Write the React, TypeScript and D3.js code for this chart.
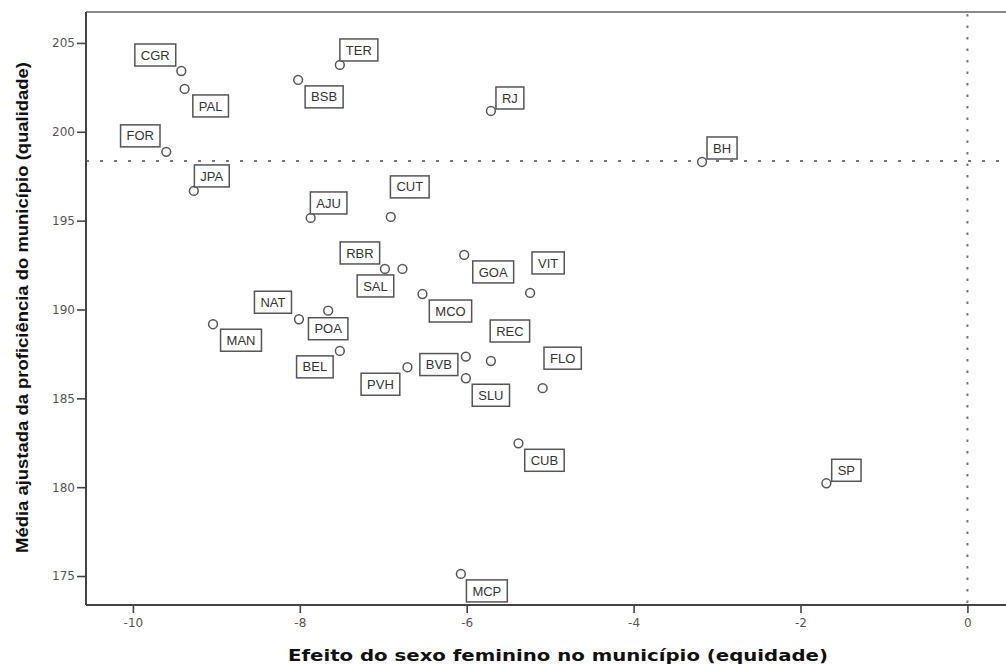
import React, { useEffect, useRef } from "react";
import * as d3 from "d3";

// Municipality codes
const cities = [
  "CGR", "PAL", "FOR", "JPA", "TER", "BSB", "RJ", "BH", "AJU", "CUT",
  "RBR", "SAL", "GOA", "VIT", "MCO", "NAT", "POA", "MAN", "BEL", "PVH",
  "BVB", "REC", "SLU", "FLO", "CUB", "SP", "MCP",
];
// Efeito do sexo feminino (equidade)
const equidade = [
  -9.42, -9.38, -9.60, -9.27, -7.52, -8.02, -5.71, -3.18, -7.87, -6.91,
  -6.98, -6.77, -6.03, -5.24, -6.53, -8.01, -7.66, -9.04, -7.52, -6.71,
  -6.01, -5.71, -6.01, -5.09, -5.38, -1.69, -6.07,
];
// Média ajustada da proficiência (qualidade)
const qualidade = [
  203.42, 202.41, 198.87, 196.67, 203.76, 202.92, 201.17, 198.30, 195.15, 195.21,
  192.28, 192.28, 193.07, 190.93, 190.87, 189.45, 189.93, 189.17, 187.67, 186.75,
  187.35, 187.10, 186.13, 185.57, 182.47, 180.22, 175.12,
];
// label box centre offsets from the point (pixels)
const labelDx = [
  -26, 26, -26, 18, 19, 26, 19, 20, 18, 19,
  -25, -27, 29, 18, 28, -26, 0, 28, -25, -27,
  -27, 19, 25, 20, 26, 20, 26,
];
const labelDy = [
  -16, 17, -16, -15, -15, 17, -13, -14, -15, -30,
  -16, 17, 17, -30, 17, -17, 18, 16, 16, 17,
  8, -30, 17, -30, 17, -13, 17,
];

const xTicks = [-10, -8, -6, -4, -2, 0];
const yTicks = [175, 180, 185, 190, 195, 200, 205];
const refX = 0;
const refY = 198.36;

const xTitle = "Efeito do sexo feminino no município (equidade)";
const yTitle = "Média ajustada da proficiência do município (qualidade)";

const W = 1006;
const H = 664;
const left = 86;
const top = 12;
const bottom = 605;
const right = 1030;

export default function App() {
  const ref = useRef<SVGSVGElement | null>(null);

  useEffect(() => {
    const svg = d3.select(ref.current);
    svg.selectAll("*").remove();

    const x = d3.scaleLinear().domain([-10.55, 0.75]).range([left + 1, right]);
    const y = d3.scaleLinear().domain([173.37, 206.74]).range([bottom, top]);
    const font = "Arial, 'Liberation Sans', sans-serif";
    const tickFont = "'DejaVu Sans', Verdana, sans-serif";

    svg.append("rect").attr("width", W).attr("height", H).attr("fill", "#fff");

    // top frame line
    svg.append("line")
      .attr("x1", left).attr("x2", W + 10).attr("y1", top).attr("y2", top)
      .attr("stroke", "#8a8a8a").attr("stroke-width", 2);

    // reference lines
    svg.append("line")
      .attr("x1", left).attr("x2", W + 10).attr("y1", y(refY)).attr("y2", y(refY))
      .attr("stroke", "#777").attr("stroke-width", 2).attr("stroke-dasharray", "3,11");
    svg.append("line")
      .attr("x1", x(refX)).attr("x2", x(refX)).attr("y1", top + 2).attr("y2", bottom)
      .attr("stroke", "#777").attr("stroke-width", 2).attr("stroke-dasharray", "2.5,9");

    // axes
    const fmt = (d: d3.NumberValue) => String(d);
    const yAxis = svg.append("g").attr("transform", `translate(${left},0)`)
      .call(d3.axisLeft(y).tickValues(yTicks).tickSize(9).tickPadding(2).tickFormat(fmt));
    const xAxis = svg.append("g").attr("transform", `translate(0,${bottom})`)
      .call(d3.axisBottom(x).tickValues(xTicks).tickSize(8).tickPadding(5).tickFormat(fmt));
    [yAxis, xAxis].forEach((g) => {
      g.select(".domain").attr("stroke", "#444").attr("stroke-width", 2);
      g.selectAll(".tick line").attr("stroke", "#444").attr("stroke-width", 1.6);
      g.selectAll(".tick text").attr("fill", "#555").style("font-family", tickFont).style("font-size", "12px");
    });
    xAxis.select(".domain").attr("d", `M${left},0H${W + 10}`);
    yAxis.select(".domain").attr("d", `M0,${top}V${bottom}`);

    // points
    svg.append("g").selectAll("circle").data(cities).join("circle")
      .attr("cx", (_, i) => x(equidade[i]))
      .attr("cy", (_, i) => y(qualidade[i]))
      .attr("r", 4.4)
      .attr("fill", "#fff").attr("stroke", "#555").attr("stroke-width", 1.5);

    // labels
    const lg = svg.append("g");
    cities.forEach((c, i) => {
      const cx = x(equidade[i]) + labelDx[i];
      const cy = y(qualidade[i]) + labelDy[i];
      const g = lg.append("g");
      const rect = g.append("rect");
      const t = g.append("text")
        .attr("x", cx).attr("y", cy + 4.6)
        .attr("text-anchor", "middle")
        .style("font-family", font).style("font-size", "13px")
        .attr("fill", "#333").text(c);
      const w = (t.node() as SVGTextElement).getComputedTextLength() + 12;
      rect.attr("x", cx - w / 2).attr("y", cy - 11).attr("width", w).attr("height", 22)
        .attr("fill", "#fff").attr("stroke", "#555").attr("stroke-width", 1.5);
    });

    // titles
    svg.append("text")
      .attr("x", (left + right) / 2).attr("y", 661)
      .attr("text-anchor", "middle")
      .attr("textLength", 540).attr("lengthAdjust", "spacingAndGlyphs")
      .style("font-family", "'DejaVu Sans', Verdana, sans-serif")
      .style("font-weight", "bold").style("font-size", "16px")
      .attr("fill", "#111").text(xTitle);
    svg.append("text")
      .attr("transform", `translate(28,${(62 + 553) / 2}) rotate(-90)`)
      .attr("text-anchor", "middle")
      .attr("textLength", 491).attr("lengthAdjust", "spacingAndGlyphs")
      .style("font-family", font)
      .style("font-weight", "bold").style("font-size", "16px")
      .attr("fill", "#111").text(yTitle);
  }, []);

  return (
    <div style={{ position: "absolute", left: 0, top: 0 }}>
      <svg ref={ref} width={W} height={H} style={{ display: "block" }} />
    </div>
  );
}
